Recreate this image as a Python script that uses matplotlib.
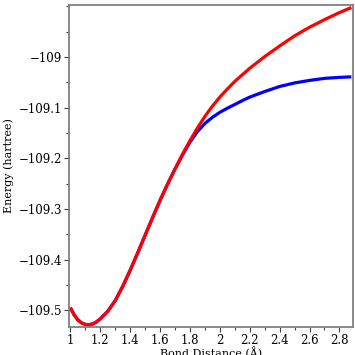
import matplotlib
matplotlib.use("Agg")
from matplotlib import pyplot as plt
from matplotlib.ticker import FixedLocator, MultipleLocator, FuncFormatter

# bond distance (angstrom)
r = [1.000, 1.025, 1.050, 1.075, 1.100, 1.125, 1.150, 1.175, 1.200, 1.250,
     1.300, 1.350, 1.400, 1.450, 1.500, 1.550, 1.600, 1.650, 1.700, 1.750,
     1.800, 1.850, 1.900, 1.950, 2.000, 2.050, 2.100, 2.150, 2.200, 2.300,
     2.400, 2.500, 2.600, 2.700, 2.800, 2.880]

# energies (hartree), red curve
e_red = [-109.495, -109.509, -109.519, -109.525, -109.528, -109.5285,
         -109.527, -109.523, -109.517, -109.502, -109.481, -109.453,
         -109.421, -109.387, -109.352, -109.317, -109.283, -109.251,
         -109.221, -109.192, -109.165, -109.140, -109.117, -109.097,
         -109.079, -109.063, -109.048, -109.035, -109.022, -108.999,
         -108.978, -108.958, -108.941, -108.926, -108.912, -108.902]

# energies (hartree), blue curve
e_blue = [-109.495, -109.509, -109.519, -109.525, -109.528, -109.5285,
          -109.527, -109.523, -109.517, -109.502, -109.481, -109.453,
          -109.421, -109.387, -109.352, -109.317, -109.283, -109.251,
          -109.221, -109.1935, -109.168, -109.147, -109.131, -109.119,
          -109.109, -109.101, -109.0935, -109.086, -109.079, -109.068,
          -109.058, -109.051, -109.046, -109.042, -109.040, -109.039]

y_ticks = [-109.5, -109.4, -109.3, -109.2, -109.1, -109.0]


def fmt(v, pos):
    s = "%g" % round(v, 3)
    return s.replace("-", "\u2212")


plt.rcParams["font.family"] = "DejaVu Serif"
fig = plt.figure(figsize=(3.55, 3.55), dpi=100)
ax = fig.add_axes([0.194, 0.079, 0.8, 0.907])

ax.plot(r, e_blue, color="#0000ff", lw=2.3, solid_capstyle="butt")
ax.plot(r, e_red, color="#ff0000", lw=2.3, solid_capstyle="butt")

ax.set_xlim(0.99, 2.89)
ax.set_ylim(-109.533, -108.897)

ax.xaxis.set_major_locator(MultipleLocator(0.2))
ax.xaxis.set_minor_locator(MultipleLocator(0.1))
ax.yaxis.set_major_locator(FixedLocator(y_ticks))
ax.yaxis.set_minor_locator(MultipleLocator(0.05))
ax.xaxis.set_major_formatter(FuncFormatter(fmt))
ax.yaxis.set_major_formatter(FuncFormatter(fmt))

for s in ax.spines.values():
    s.set_color("#808080")
    s.set_linewidth(1.3)

ax.tick_params(which="major", length=3.5, width=0.8, color="#404040",
               labelsize=8.5, pad=1.5)
ax.tick_params(which="minor", length=2, width=0.8, color="#404040")

ax.set_xlabel("Bond Distance (\u00c5)", fontsize=8, labelpad=0)
ax.set_ylabel("Energy (hartree)", fontsize=8, labelpad=3)

fig.savefig("out.png", dpi=100)
